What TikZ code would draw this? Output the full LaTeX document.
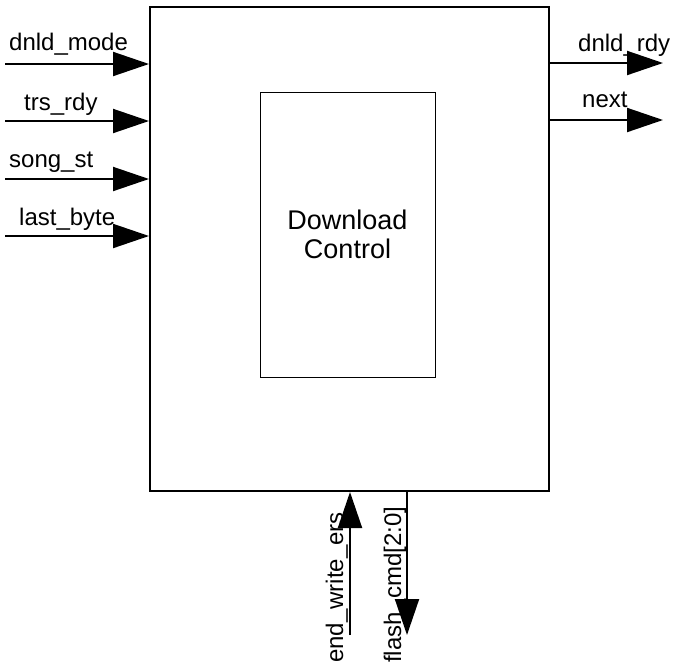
\documentclass[tikz,border=0pt]{standalone}
\usepackage{fontspec}
\setmainfont{Liberation Sans}
\usetikzlibrary{positioning,arrows.meta}

\begin{document}
\begin{tikzpicture}[
    x=1pt, y=-1pt,
    blk/.style={draw, line width=2pt, minimum width=399pt, minimum height=484pt, inner sep=0pt},
    core/.style={draw, line width=1pt, minimum width=175pt, minimum height=285pt, inner sep=0pt, align=center, font=\fontsize{27}{29}\selectfont},
    sig/.style={-{Triangle[length=36pt,width=24pt]}, line width=2pt},
    lbl/.style={inner sep=0pt, font=\fontsize{24}{24}\selectfont}
  ]
    \useasboundingbox (0,0) rectangle (674,665);
    \node[blk] (ctrl) at (349.5,249) {};
    \node[core] (dl) at (347.5,234.5) {Download\\Control};
    % inputs
    \coordinate (imode) at (5,64);
    \coordinate (itrs) at (5,121);
    \coordinate (isong) at (5,179);
    \coordinate (ilast) at (5,236);
    \draw[sig] (imode) -- (imode -| ctrl.west);
    \draw[sig] (itrs) -- (itrs -| ctrl.west);
    \draw[sig] (isong) -- (isong -| ctrl.west);
    \draw[sig] (ilast) -- (ilast -| ctrl.west);
    \node[lbl, anchor=base west] (lmode) at (9,50) {dnld\_mode};
    \node[lbl, anchor=base west] (ltrs) at (24,110) {trs\_rdy};
    \node[lbl, anchor=base west] (lsong) at (9,167) {song\_st};
    \node[lbl, anchor=base west] (llast) at (19,225) {last\_byte};
    % outputs
    \coordinate (ordy) at (663,63);
    \coordinate (onext) at (663,120);
    \draw[sig] (ordy -| ctrl.east) -- (ordy);
    \draw[sig] (onext -| ctrl.east) -- (onext);
    \node[lbl, anchor=base west] (lrdy) at (578,51) {dnld\_rdy};
    \node[lbl, anchor=base west] (lnext) at (582,107) {next};
    % bottom
    \coordinate (bers) at (350,635);
    \coordinate (bcmd) at (407,635);
    \draw[sig] (bers) -- (bers |- ctrl.south);
    \draw[sig] (bcmd |- ctrl.south) -- (bcmd);
    \node[lbl, rotate=90, anchor=base west] (lers) at (343,663) {end\_write\_ers};
    \node[lbl, rotate=90, anchor=base west] (lcmd) at (401,663) {flash\_cmd[2:0]};
  \end{tikzpicture}
\end{document}
